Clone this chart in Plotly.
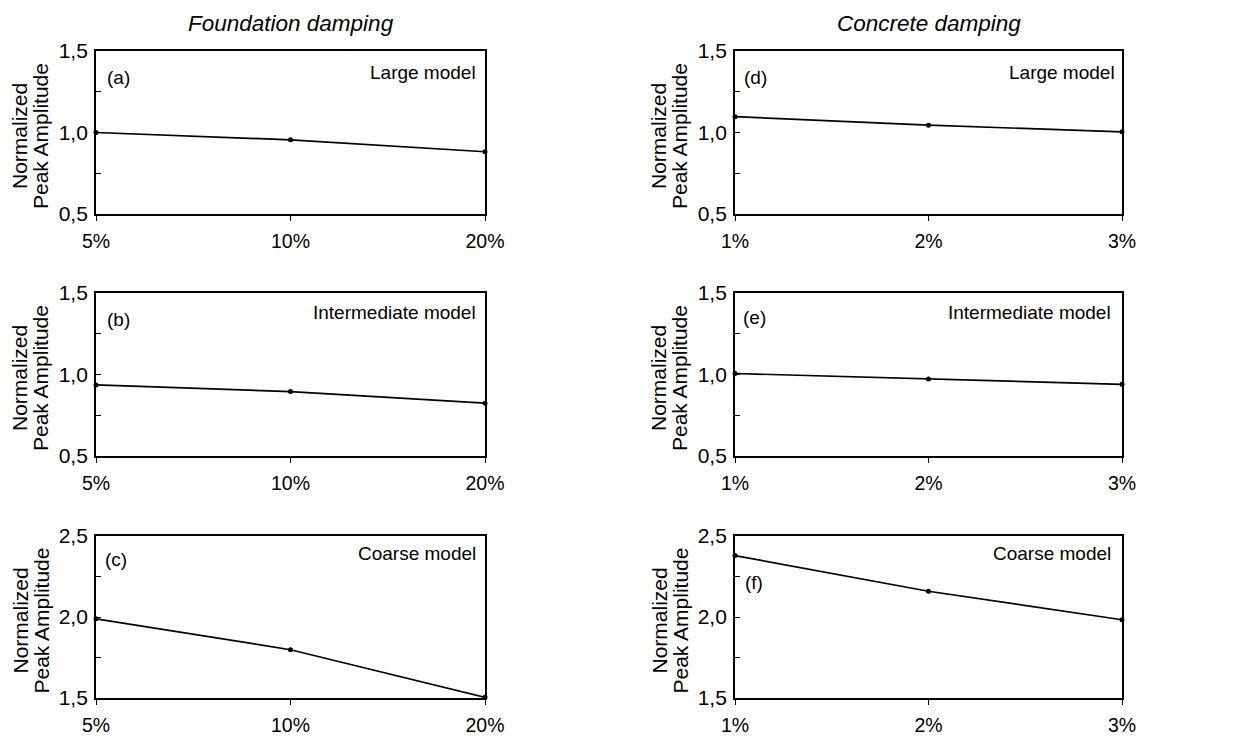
import plotly.graph_objects as go

# ---- data ----
foundation_x = ["5%", "10%", "20%"]
concrete_x = ["1%", "2%", "3%"]

large_foundation = [1.00, 0.955, 0.882]
intermediate_foundation = [0.936, 0.895, 0.824]
coarse_foundation = [1.989, 1.798, 1.504]

large_concrete = [1.097, 1.045, 1.004]
intermediate_concrete = [1.006, 0.973, 0.940]
coarse_concrete = [2.379, 2.159, 1.983]

panel_letters = ["(a)", "(b)", "(c)", "(d)", "(e)", "(f)"]
model_names = ["Large model", "Intermediate model", "Coarse model"]
column_titles = ["Foundation damping", "Concrete damping"]
y_title_lines = ["Normalized", "Peak Amplitude"]

y_ticks_small = [0.5, 0.75, 1.0, 1.25, 1.5]
y_ticks_small_text = ["0,5", "", "1,0", "", "1,5"]
y_ticks_big = [1.5, 1.75, 2.0, 2.25, 2.5]
y_ticks_big_text = ["1,5", "", "2,0", "", "2,5"]

W, H = 1243, 745
FONT = "Liberation Sans, Arial, sans-serif"

cols_px = [(96, 485), (735, 1122)]
rows_px = [(51, 214), (293, 456), (536, 698)]

fig = go.Figure()

series = [
    (0, 0, foundation_x, large_foundation, y_ticks_small, y_ticks_small_text, [0.5, 1.5]),
    (0, 1, foundation_x, intermediate_foundation, y_ticks_small, y_ticks_small_text, [0.5, 1.5]),
    (0, 2, foundation_x, coarse_foundation, y_ticks_big, y_ticks_big_text, [1.5, 2.5]),
    (1, 0, concrete_x, large_concrete, y_ticks_small, y_ticks_small_text, [0.5, 1.5]),
    (1, 1, concrete_x, intermediate_concrete, y_ticks_small, y_ticks_small_text, [0.5, 1.5]),
    (1, 2, concrete_x, coarse_concrete, y_ticks_big, y_ticks_big_text, [1.5, 2.5]),
]

ann_pos = [
    (0.022, 0.84, 0.982, 0.87),
    (0.022, 0.84, 0.982, 0.883),
    (0.018, 0.858, 0.982, 0.895),
    (0.018, 0.84, 0.986, 0.87),
    (0.016, 0.85, 0.977, 0.883),
    (0.02, 0.71, 0.977, 0.895),
]

layout_axes = {}
annotations = []
for i, (c, r, xs, ys, yt, ytt, yr) in enumerate(series):
    n = i + 1
    xa = "x" if n == 1 else f"x{n}"
    ya = "y" if n == 1 else f"y{n}"
    fig.add_trace(go.Scatter(
        x=xs, y=ys, mode="lines+markers",
        line=dict(color="black", width=1.7),
        marker=dict(color="black", size=5),
        cliponaxis=False, showlegend=False,
        xaxis=xa, yaxis=ya,
    ))
    x0, x1 = cols_px[c]
    y0, y1 = rows_px[r]
    layout_axes[f"xaxis{'' if n == 1 else n}"] = dict(
        domain=[x0 / W, x1 / W], anchor=ya,
        type="category", range=[0, 2],
        showline=True, linecolor="black", linewidth=1.8, mirror=True,
        ticks="outside", ticklen=5, tickwidth=1.2, tickcolor="black",
        ticklabelstandoff=4,
        showgrid=False, zeroline=False,
        tickfont=dict(family=FONT, size=19.5, color="black"),
    )
    layout_axes[f"yaxis{'' if n == 1 else n}"] = dict(
        domain=[1 - y1 / H, 1 - y0 / H], anchor=xa,
        range=yr, tickmode="array", tickvals=yt, ticktext=ytt,
        showline=True, linecolor="black", linewidth=1.8, mirror=True,
        ticks="inside", ticklen=5, tickwidth=1.2, tickcolor="black",
        ticklabelstandoff=2,
        showgrid=False, zeroline=False,
        tickfont=dict(family=FONT, size=21, color="black"),
    )
    lx, ly, nx, ny = ann_pos[i]
    annotations.append(dict(
        text=panel_letters[i], xref=f"{xa} domain", yref=f"{ya} domain",
        x=lx, y=ly, xanchor="left", yanchor="middle", showarrow=False,
        font=dict(family=FONT, size=19, color="black"),
    ))
    annotations.append(dict(
        text=model_names[r], xref=f"{xa} domain", yref=f"{ya} domain",
        x=nx, y=ny, xanchor="right", yanchor="middle", showarrow=False,
        font=dict(family=FONT, size=19, color="black"),
    ))
    yc = 1 - ((y0 + y1) / 2 + 4) / H
    for k, line_px in enumerate([19.5, 40.5]):
        annotations.append(dict(
            text=y_title_lines[k], xref="paper", yref="paper",
            x=(x0 - 96 + line_px) / W, y=yc, textangle=-90,
            xanchor="center", yanchor="middle", showarrow=False,
            font=dict(family=FONT, size=21, color="black"),
        ))

for c in range(2):
    x0, x1 = cols_px[c]
    annotations.append(dict(
        text=f"<i>{column_titles[c]}</i>", xref="paper", yref="paper",
        x=(x0 + x1) / 2 / W, y=1 - 24 / H, xanchor="center", yanchor="middle",
        showarrow=False, font=dict(family=FONT, size=22.5, color="black"),
    ))

fig.update_layout(
    width=W, height=H,
    margin=dict(l=0, r=0, t=0, b=0, pad=0, autoexpand=False),
    paper_bgcolor="white", plot_bgcolor="white",
    annotations=annotations,
    **layout_axes,
)

fig.write_html(
    "out.html",
    post_script="document.body.style.margin='0';document.body.style.padding='0';document.body.style.overflow='hidden';",
)
